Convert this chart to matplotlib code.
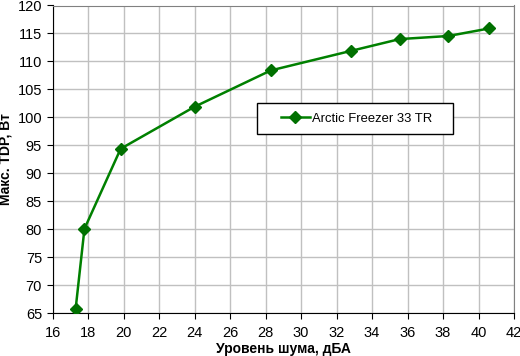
import matplotlib
matplotlib.use('Agg')
import matplotlib.pyplot as plt
from matplotlib.patches import Rectangle

noise = [17.3, 17.8, 19.84, 24.0, 28.3, 32.83, 35.56, 38.3, 40.6]
tdp = [65.7, 80.1, 94.4, 101.9, 108.4, 111.9, 114.0, 114.55, 115.9]
series_name = 'Arctic Freezer 33 TR'
x_ticks = list(range(16, 43, 2))
y_ticks = list(range(65, 121, 5))

plt.rcParams['font.family'] = ['Liberation Sans', 'DejaVu Sans']

W, H = 520, 356
x0, x1, y0, y1 = 52.5, 514, 5.5, 313.3   # plot area in pixels
pw, ph = x1 - x0, y1 - y0


def ax_x(px):
    return (px - x0) / pw


def ax_y(py):
    return 1 - (py - y0) / ph


fig = plt.figure(figsize=(W / 100, H / 100), dpi=100)
ax = fig.add_axes([x0 / W, 1 - y1 / H, pw / W, ph / H])

ax.plot(noise, tdp, color='#008000', lw=1.8, marker='D', ms=6,
        markerfacecolor='#007000', markeredgecolor='#007000', label=series_name, zorder=3)

ax.set_xlim(16, 42)
ax.set_ylim(65, 120)
ax.set_xticks(x_ticks)
ax.set_yticks(y_ticks)
ax.grid(True, color='#c0c0c0', lw=1)
ax.set_axisbelow(True)
ax.tick_params(labelsize=10.5, length=4, direction='out', color='black')
ax.tick_params(axis='x', pad=5)

for side in ['top', 'right']:
    ax.spines[side].set_color('#808080')
for side in ['left', 'bottom']:
    ax.spines[side].set_color('black')

ax.set_xlabel('Уровень шума, дБА', fontsize=10, fontweight='bold')
ax.set_ylabel('Макс. TDP, Вт', fontsize=10, fontweight='bold')
ax.xaxis.set_label_coords(0.5, ax_y(342.3))
ax.yaxis.set_label_coords(ax_x(12.5), 0.5)

# legend box
box = Rectangle((ax_x(257), ax_y(134.3)), ax_x(453) - ax_x(257), ax_y(102.7) - ax_y(134.3),
                transform=ax.transAxes, facecolor='white', edgecolor='black', lw=1, zorder=4)
ax.add_patch(box)
leg = ax.legend(loc='center left', bbox_to_anchor=(ax_x(281), ax_y(118.5)),
                fontsize=9.4, frameon=False, borderpad=0, handlelength=2.2,
                handletextpad=0.2, borderaxespad=0)
leg.set_zorder(5)

fig.savefig('out.png', dpi=100)
